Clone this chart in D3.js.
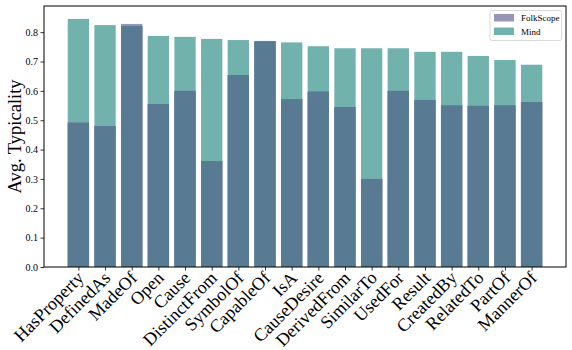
<!DOCTYPE html>
<html><head><meta charset="utf-8">
<script src="https://cdn.jsdelivr.net/npm/d3@7"></script>
<style>body{margin:0;background:#fff}svg{display:block}svg text{font-family:"Liberation Serif","Times New Roman",serif !important}</style>
</head><body>
<script>
const categories = ["HasProperty","DefinedAs","MadeOf","Open","Cause","DistinctFrom","SymbolOf","CapableOf","IsA","CauseDesire","DerivedFrom","SimilarTo","UsedFor","Result","CreatedBy","RelatedTo","PartOf","MannerOf"];
const mindValues = [0.845,0.824,0.821,0.787,0.784,0.777,0.773,0.770,0.765,0.752,0.745,0.745,0.745,0.733,0.733,0.719,0.705,0.689];
const folkValues = [0.492,0.480,0.828,0.555,0.600,0.361,0.654,0.769,0.572,0.598,0.545,0.300,0.600,0.569,0.551,0.549,0.551,0.562];
const yTicks = [0.0,0.1,0.2,0.3,0.4,0.5,0.6,0.7,0.8];
const seriesNames = ["FolkScope","Mind"];

const W=572,H=350, L=44, R=566, T=6, B=267;
const folkColor="#9896b8", mindColor="#72b2ad", overlapColor="#587a93";
const svg=d3.select("body").append("svg").attr("width",W).attr("height",H);

const n=categories.length;
const x=d3.scaleLinear().domain([-1.29, n-1+1.29]).range([L,R]);
const y=d3.scaleLinear().domain([0,0.889]).range([B,T]);
const bw=(x(0.8)-x(0));

const g=svg.append("g");
g.selectAll("rect.mind").data(categories).join("rect")
 .attr("x",(d,i)=>x(i)-bw/2).attr("width",bw)
 .attr("y",(d,i)=>y(mindValues[i])).attr("height",(d,i)=>B-y(mindValues[i]))
 .attr("fill",mindColor);
g.selectAll("rect.folk").data(categories).join("rect")
 .attr("x",(d,i)=>x(i)-bw/2).attr("width",bw)
 .attr("y",(d,i)=>y(folkValues[i])).attr("height",(d,i)=>B-y(folkValues[i]))
 .attr("fill",folkColor);
g.selectAll("rect.ov").data(categories).join("rect")
 .attr("x",(d,i)=>x(i)-bw/2).attr("width",bw)
 .attr("y",(d,i)=>y(Math.min(folkValues[i],mindValues[i]))).attr("height",(d,i)=>B-y(Math.min(folkValues[i],mindValues[i])))
 .attr("fill",overlapColor);

const ya=svg.append("g").attr("transform",`translate(${L},0)`)
 .call(d3.axisLeft(y).tickValues(yTicks).tickFormat(d3.format(".1f")).tickSizeOuter(0).tickSize(3.5));
ya.select(".domain").remove();
ya.selectAll("text").attr("font-size","10px").attr("fill","#000").attr("x",-6);
ya.selectAll("line").attr("stroke","#000").attr("stroke-width",0.8);

const xa=svg.append("g").attr("transform",`translate(0,${B})`)
 .call(d3.axisBottom(x).tickValues(d3.range(n)).tickFormat(i=>categories[i]).tickSizeOuter(0).tickSize(3.5));
xa.select(".domain").remove();
xa.selectAll("line").attr("stroke","#000").attr("stroke-width",0.8);
xa.selectAll("text").attr("font-size","18px").attr("fill","#000")
 .attr("text-anchor","end").attr("dy","0").attr("y",0)
 .attr("transform","translate(6,12) rotate(-45)");

svg.append("rect").attr("x",L).attr("y",T).attr("width",R-L).attr("height",B-T)
 .attr("fill","none").attr("stroke","#000").attr("stroke-width",1);

svg.append("text").attr("transform",`translate(21,${(T+B)/2}) rotate(-90)`)
 .attr("text-anchor","middle").attr("font-size","18.5px").text("Avg. Typicality");

const lg=svg.append("g");
lg.append("rect").attr("x",490).attr("y",10.5).attr("width",71.5).attr("height",30).attr("rx",2)
 .attr("fill","#fff").attr("fill-opacity",0.8).attr("stroke","#d0d0d0").attr("stroke-width",0.8);
const lcol=[folkColor,mindColor];
seriesNames.forEach((s,i)=>{
  lg.append("rect").attr("x",494).attr("y",14+i*13.5).attr("width",20).attr("height",7.5).attr("fill",lcol[i]);
  lg.append("text").attr("x",521).attr("y",21+i*13.5).attr("font-size","9px").text(s);
});
</script>
</body></html>
